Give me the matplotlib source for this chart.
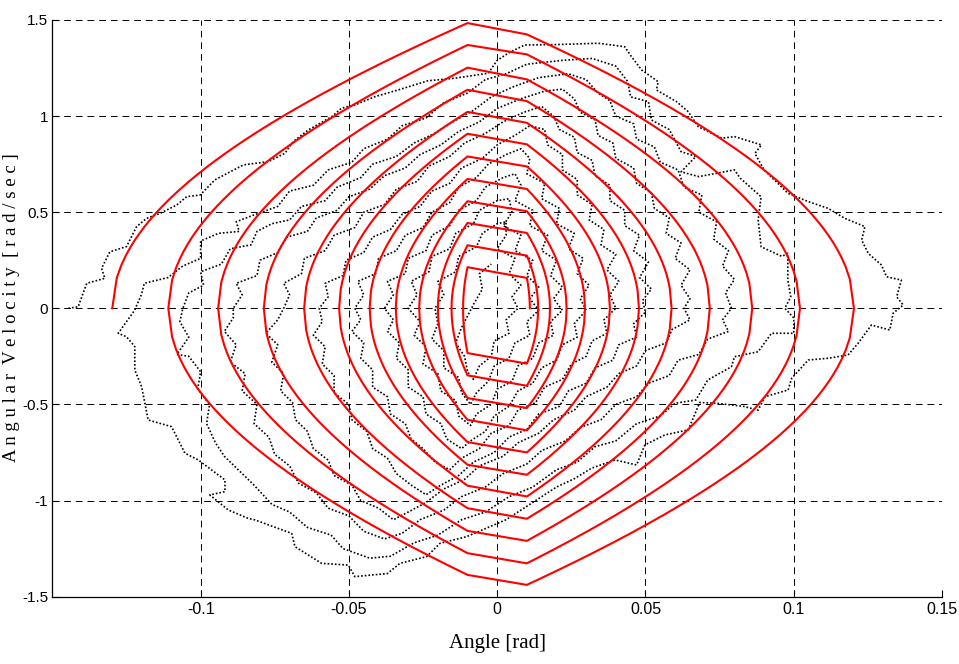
import numpy as np
import matplotlib
matplotlib.use("Agg")
import matplotlib.pyplot as plt

# switching-line model: crossings of the angle axis and the velocity values
# where each turn meets the dead-band edges at +/-0.01 rad
red_left_cross = [-0.1298, -0.1109, -0.0941, -0.0787, -0.0651, -0.0533,
                  -0.0430, -0.0342, -0.0263, -0.0200, -0.0154, -0.0115]
red_right_cross = [0.1203, 0.1021, 0.0860, 0.0717, 0.0588, 0.0478,
                   0.0380, 0.0296, 0.0234, 0.0178, 0.0138, 0.0110]
red_top_in = [1.484, 1.370, 1.252, 1.137, 1.022, 0.908,
              0.790, 0.673, 0.557, 0.444, 0.328, 0.214]
red_top_out = [1.425, 1.321, 1.191, 1.078, 0.965, 0.853,
               0.738, 0.621, 0.505, 0.392, 0.274, 0.158]
red_bot_in = [-1.439, -1.327, -1.210, -1.095, -0.979, -0.866,
              -0.750, -0.635, -0.519, -0.403, -0.288]
red_bot_out = [-1.387, -1.274, -1.158, -1.040, -0.923, -0.814,
               -0.696, -0.580, -0.467, -0.349, -0.233]
dead_band = 0.01
arc_bend = 16.5

# measured trajectory, one list per turn
blk_loop1 = [
    (-0.1446, 0.000), (-0.1413, 0.008), (-0.1384, 0.130), (-0.1323, 0.156), (-0.1334, 0.208),
    (-0.1306, 0.294), (-0.1250, 0.321), (-0.1216, 0.425), (-0.1182, 0.468), (-0.1137, 0.494),
    (-0.1081, 0.537), (-0.1047, 0.581), (-0.1002, 0.589), (-0.0952, 0.668), (-0.0856, 0.746),
    (-0.0772, 0.763), (-0.0716, 0.806), (-0.0688, 0.867), (-0.0637, 0.928), (-0.0558, 0.997),
    (-0.0525, 1.041), (-0.0480, 1.058), (-0.0412, 1.101), (-0.0334, 1.136), (-0.0233, 1.184),
    (-0.0143, 1.197), (-0.0030, 1.223), (0.0000, 1.290), (0.0040, 1.330), (0.0093, 1.370),
    (0.0200, 1.372), (0.0341, 1.379), (0.0430, 1.361), (0.0453, 1.309), (0.0487, 1.240),
    (0.0543, 1.179), (0.0537, 1.136), (0.0605, 1.075), (0.0644, 1.023), (0.0678, 0.945),
    (0.0757, 0.885), (0.0801, 0.893), (0.0891, 0.850), (0.0869, 0.806), (0.0900, 0.720),
    (0.0981, 0.598), (0.1049, 0.555), (0.1116, 0.520), (0.1172, 0.468), (0.1240, 0.425),
    (0.1229, 0.355), (0.1251, 0.286), (0.1296, 0.225), (0.1313, 0.164), (0.1363, 0.147),
    (0.1347, 0.060), (0.1369, 0.017), (0.1335, -0.026), (0.1324, -0.113), (0.1262, -0.087),
    (0.1217, -0.182), (0.1183, -0.243), (0.1116, -0.260), (0.1049, -0.269), (0.0993, -0.364),
    (0.0981, -0.425), (0.0903, -0.460), (0.0880, -0.530), (0.0830, -0.510), (0.0740, -0.494),
    (0.0683, -0.490), (0.0644, -0.633), (0.0565, -0.659), (0.0498, -0.711), (0.0470, -0.815),
    (0.0397, -0.789), (0.0318, -0.832), (0.0262, -0.885), (0.0200, -0.930), (0.0120, -1.010),
    (0.0030, -1.100), (-0.0103, -1.188), (-0.0193, -1.223), (-0.0238, -1.292), (-0.0328, -1.327),
    (-0.0370, -1.380), (-0.0480, -1.396), (-0.0502, -1.336), (-0.0592, -1.327), (-0.0682, -1.240),
    (-0.0693, -1.171), (-0.0817, -1.101), (-0.0840, -1.093), (-0.0907, -1.049), (-0.0969, -0.971),
    (-0.0918, -0.954), (-0.0918, -0.893), (-0.1008, -0.789), (-0.1053, -0.754), (-0.1098, -0.616),
    (-0.1177, -0.581), (-0.1188, -0.494), (-0.1199, -0.408), (-0.1222, -0.321), (-0.1222, -0.200),
    (-0.1250, -0.148), (-0.1278, -0.130), (-0.1222, -0.009),
]
blk_loop2 = [
    (-0.122, 0.00), (-0.120, 0.07), (-0.119, 0.13), (-0.111, 0.16), (-0.106, 0.22), (-0.100, 0.26),
    (-0.100, 0.35), (-0.094, 0.39), (-0.087, 0.40), (-0.088, 0.45), (-0.083, 0.48), (-0.074, 0.53),
    (-0.070, 0.61), (-0.062, 0.64), (-0.057, 0.72), (-0.049, 0.76), (-0.045, 0.83), (-0.037, 0.88),
    (-0.032, 0.95), (-0.024, 0.99), (-0.018, 1.07), (-0.010, 1.12), (-0.004, 1.19), (0.003, 1.22),
    (0.010, 1.27), (0.022, 1.29), (0.032, 1.30), (0.040, 1.26), (0.044, 1.18), (0.045, 1.10),
    (0.051, 1.075), (0.052, 0.98), (0.058, 0.93), (0.062, 0.815), (0.067, 0.79), (0.062, 0.71),
    (0.068, 0.685), (0.080, 0.72), (0.082, 0.676), (0.089, 0.58), (0.088, 0.46), (0.089, 0.32),
    (0.096, 0.27), (0.098, 0.286), (0.098, 0.147), (0.099, 0.06), (0.097, 0.0), (0.100, -0.05),
    (0.100, -0.13), (0.0925, -0.13), (0.088, -0.226), (0.080, -0.252), (0.079, -0.304), (0.071, -0.373),
    (0.067, -0.477), (0.060, -0.494), (0.055, -0.56), (0.047, -0.60), (0.040, -0.69), (0.033, -0.72),
    (0.027, -0.80), (0.020, -0.84), (0.012, -0.93), (0.004, -0.98), (-0.004, -1.06), (-0.012, -1.10),
    (-0.020, -1.18), (-0.028, -1.22), (-0.036, -1.29), (-0.043, -1.30), (-0.052, -1.25), (-0.056, -1.18),
    (-0.064, -1.14), (-0.070, -1.06), (-0.076, -1.02), (-0.082, -0.92), (-0.086, -0.86), (-0.092, -0.77),
    (-0.095, -0.70), (-0.098, -0.60), (-0.097, -0.50), (-0.101, -0.42), (-0.100, -0.33), (-0.104, -0.25),
    (-0.108, -0.24), (-0.104, -0.15), (-0.107, -0.07), (-0.106, 0.0),
]
blk_loop3 = [
    (-0.106, 0.00), (-0.104, 0.08), (-0.099, 0.12), (-0.100, 0.19), (-0.093, 0.23), (-0.090, 0.31),
    (-0.083, 0.33), (-0.081, 0.40), (-0.076, 0.44), (-0.070, 0.46), (-0.066, 0.53), (-0.058, 0.56),
    (-0.054, 0.63), (-0.046, 0.68), (-0.042, 0.75), (-0.034, 0.79), (-0.028, 0.86), (-0.021, 0.91),
    (-0.015, 0.97), (-0.008, 1.03), (-0.002, 1.10), (0.005, 1.15), (0.014, 1.20), (0.024, 1.22),
    (0.030, 1.19), (0.034, 1.12), (0.038, 1.08), (0.040, 1.00), (0.046, 0.96), (0.047, 0.88),
    (0.053, 0.84), (0.055, 0.76), (0.061, 0.72), (0.063, 0.63), (0.069, 0.59), (0.068, 0.50),
    (0.074, 0.45), (0.073, 0.36), (0.078, 0.30), (0.076, 0.22), (0.080, 0.15), (0.077, 0.08),
    (0.079, 0.0), (0.076, -0.06), (0.078, -0.12), (0.071, -0.16), (0.068, -0.24), (0.061, -0.27),
    (0.058, -0.35), (0.051, -0.39), (0.047, -0.46), (0.040, -0.50), (0.035, -0.58), (0.028, -0.62),
    (0.023, -0.69), (0.015, -0.74), (0.010, -0.81), (0.002, -0.86), (-0.004, -0.93), (-0.012, -0.98),
    (-0.018, -1.05), (-0.026, -1.10), (-0.032, -1.17), (-0.038, -1.20), (-0.045, -1.16), (-0.050, -1.08),
    (-0.057, -1.04), (-0.061, -0.96), (-0.067, -0.91), (-0.070, -0.82), (-0.075, -0.76), (-0.077, -0.67),
    (-0.082, -0.60), (-0.081, -0.50), (-0.086, -0.43), (-0.085, -0.34), (-0.090, -0.28), (-0.088, -0.19),
    (-0.092, -0.12), (-0.089, -0.05), (-0.089, 0.00),
]
blk_loop4 = [
    (-0.089, 0.00), (-0.086, 0.07), (-0.088, 0.13), (-0.081, 0.17), (-0.080, 0.25), (-0.074, 0.29),
    (-0.071, 0.37), (-0.064, 0.40), (-0.061, 0.47), (-0.054, 0.51), (-0.050, 0.58), (-0.043, 0.62),
    (-0.038, 0.69), (-0.031, 0.73), (-0.026, 0.80), (-0.019, 0.85), (-0.013, 0.92), (-0.006, 0.97),
    (0.000, 1.04), (0.008, 1.09), (0.016, 1.13), (0.022, 1.14), (0.026, 1.09), (0.028, 1.02),
    (0.033, 0.98), (0.034, 0.90), (0.039, 0.86), (0.040, 0.78), (0.046, 0.73), (0.047, 0.65),
    (0.052, 0.60), (0.053, 0.52), (0.058, 0.47), (0.057, 0.39), (0.062, 0.34), (0.060, 0.26),
    (0.065, 0.20), (0.062, 0.12), (0.065, 0.05), (0.063, 0.00), (0.065, -0.06), (0.059, -0.11),
    (0.057, -0.18), (0.050, -0.22), (0.047, -0.30), (0.041, -0.34), (0.037, -0.41), (0.030, -0.46),
    (0.026, -0.53), (0.019, -0.58), (0.014, -0.65), (0.007, -0.70), (0.002, -0.77), (-0.006, -0.82),
    (-0.011, -0.89), (-0.018, -0.94), (-0.024, -1.01), (-0.030, -1.06), (-0.035, -1.10), (-0.040, -1.04),
    (-0.046, -1.00), (-0.049, -0.92), (-0.055, -0.87), (-0.057, -0.79), (-0.062, -0.73), (-0.064, -0.64),
    (-0.068, -0.58), (-0.069, -0.49), (-0.073, -0.43), (-0.072, -0.34), (-0.076, -0.28), (-0.074, -0.19),
    (-0.078, -0.13), (-0.074, -0.06), (-0.072, 0.00),
]
blk_loop5 = [
    (-0.072, 0.00), (-0.070, 0.07), (-0.072, 0.13), (-0.066, 0.18), (-0.065, 0.26), (-0.058, 0.30),
    (-0.055, 0.38), (-0.048, 0.42), (-0.045, 0.50), (-0.038, 0.54), (-0.034, 0.62), (-0.027, 0.66),
    (-0.023, 0.74), (-0.016, 0.79), (-0.011, 0.86), (-0.004, 0.91), (0.002, 0.97), (0.009, 1.02),
    (0.015, 1.05), (0.019, 1.00), (0.021, 0.93), (0.026, 0.89), (0.027, 0.81), (0.032, 0.77),
    (0.033, 0.69), (0.038, 0.64), (0.038, 0.56), (0.043, 0.51), (0.043, 0.43), (0.048, 0.38),
    (0.046, 0.30), (0.051, 0.24), (0.048, 0.16), (0.052, 0.10), (0.049, 0.04), (0.050, -0.02),
    (0.046, -0.08), (0.047, -0.15), (0.041, -0.19), (0.039, -0.27), (0.033, -0.31), (0.030, -0.39),
    (0.024, -0.43), (0.021, -0.51), (0.014, -0.55), (0.010, -0.63), (0.004, -0.67), (-0.001, -0.75),
    (-0.008, -0.80), (-0.013, -0.87), (-0.019, -0.92), (-0.024, -0.97), (-0.029, -0.92), (-0.034, -0.86),
    (-0.037, -0.78), (-0.042, -0.73), (-0.044, -0.64), (-0.049, -0.58), (-0.050, -0.50), (-0.055, -0.44),
    (-0.055, -0.35), (-0.059, -0.29), (-0.058, -0.20), (-0.062, -0.14), (-0.059, -0.07), (-0.060, 0.00),
]
blk_loop6 = [
    (-0.060, 0.00), (-0.057, 0.06), (-0.058, 0.13), (-0.052, 0.17), (-0.051, 0.25), (-0.045, 0.29),
    (-0.042, 0.37), (-0.036, 0.41), (-0.032, 0.49), (-0.026, 0.53), (-0.022, 0.61), (-0.016, 0.65),
    (-0.012, 0.73), (-0.005, 0.78), (0.000, 0.85), (0.006, 0.90), (0.011, 0.95), (0.016, 0.93),
    (0.017, 0.85), (0.022, 0.80), (0.022, 0.72), (0.027, 0.67), (0.027, 0.59), (0.032, 0.54),
    (0.031, 0.46), (0.036, 0.41), (0.035, 0.33), (0.040, 0.28), (0.037, 0.20), (0.041, 0.14),
    (0.038, 0.07), (0.040, 0.00), (0.036, -0.06), (0.037, -0.13), (0.032, -0.17), (0.030, -0.25),
    (0.025, -0.29), (0.022, -0.37), (0.016, -0.41), (0.013, -0.49), (0.007, -0.53), (0.004, -0.61),
    (-0.002, -0.65), (-0.006, -0.73), (-0.012, -0.78), (-0.016, -0.84), (-0.021, -0.80), (-0.025, -0.73),
    (-0.029, -0.68), (-0.031, -0.60), (-0.036, -0.55), (-0.037, -0.46), (-0.042, -0.41), (-0.042, -0.32),
    (-0.046, -0.26), (-0.045, -0.18), (-0.049, -0.12), (-0.046, -0.06), (-0.048, 0.00),
]
blk_loop7 = [
    (-0.048, 0.00), (-0.045, 0.07), (-0.047, 0.14), (-0.041, 0.18), (-0.040, 0.26), (-0.034, 0.30),
    (-0.031, 0.38), (-0.025, 0.42), (-0.022, 0.50), (-0.016, 0.55), (-0.013, 0.63), (-0.007, 0.68),
    (-0.003, 0.75), (0.003, 0.80), (0.008, 0.83), (0.011, 0.78), (0.010, 0.70), (0.016, 0.65),
    (0.015, 0.57), (0.021, 0.52), (0.020, 0.44), (0.026, 0.39), (0.024, 0.31), (0.029, 0.26),
    (0.027, 0.18), (0.031, 0.12), (0.028, 0.05), (0.030, -0.01), (0.026, -0.08), (0.027, -0.15),
    (0.022, -0.19), (0.020, -0.27), (0.015, -0.31), (0.012, -0.39), (0.007, -0.43), (0.004, -0.51),
    (-0.001, -0.56), (-0.004, -0.64), (-0.009, -0.69), (-0.012, -0.73), (-0.017, -0.68), (-0.019, -0.60),
    (-0.024, -0.55), (-0.025, -0.46), (-0.030, -0.41), (-0.030, -0.32), (-0.034, -0.26), (-0.033, -0.18),
    (-0.037, -0.12), (-0.035, -0.06), (-0.038, 0.00),
]
blk_loop8 = [
    (-0.038, 0.00), (-0.035, 0.07), (-0.037, 0.14), (-0.031, 0.18), (-0.030, 0.26), (-0.024, 0.30),
    (-0.022, 0.38), (-0.016, 0.43), (-0.013, 0.51), (-0.007, 0.56), (-0.004, 0.63), (0.002, 0.68),
    (0.006, 0.70), (0.008, 0.64), (0.006, 0.56), (0.012, 0.51), (0.011, 0.43), (0.017, 0.38),
    (0.015, 0.30), (0.020, 0.25), (0.018, 0.17), (0.022, 0.11), (0.019, 0.05), (0.022, -0.01),
    (0.018, -0.07), (0.019, -0.14), (0.014, -0.18), (0.012, -0.26), (0.007, -0.30), (0.005, -0.38),
    (0.000, -0.42), (-0.002, -0.50), (-0.007, -0.55), (-0.009, -0.61), (-0.013, -0.56), (-0.014, -0.48),
    (-0.019, -0.43), (-0.020, -0.34), (-0.025, -0.29), (-0.024, -0.20), (-0.028, -0.14), (-0.026, -0.07),
    (-0.030, 0.00),
]
blk_loop9 = [
    (-0.030, 0.00), (-0.027, 0.07), (-0.029, 0.14), (-0.023, 0.19), (-0.022, 0.27), (-0.016, 0.31),
    (-0.014, 0.39), (-0.008, 0.44), (-0.006, 0.51), (0.000, 0.56), (0.004, 0.57), (0.005, 0.50),
    (0.002, 0.43), (0.008, 0.38), (0.006, 0.30), (0.012, 0.25), (0.010, 0.17), (0.014, 0.11),
    (0.011, 0.05), (0.014, -0.01), (0.010, -0.07), (0.011, -0.14), (0.006, -0.18), (0.004, -0.26),
    (-0.001, -0.30), (-0.003, -0.38), (-0.007, -0.44), (-0.009, -0.50), (-0.012, -0.44), (-0.013, -0.36),
    (-0.018, -0.31), (-0.018, -0.22), (-0.022, -0.16), (-0.020, -0.08), (-0.021, 0.00),
]
blk_loop10 = [
    (-0.021, 0.00), (-0.018, 0.07), (-0.020, 0.14), (-0.014, 0.19), (-0.013, 0.27), (-0.007, 0.32),
    (-0.005, 0.39), (0.000, 0.44), (0.003, 0.45), (0.003, 0.38), (0.000, 0.31), (0.006, 0.26),
    (0.004, 0.18), (0.008, 0.12), (0.005, 0.06), (0.007, 0.00), (0.003, -0.06), (0.004, -0.13),
    (-0.001, -0.17), (-0.002, -0.25), (-0.006, -0.30), (-0.008, -0.37), (-0.010, -0.33), (-0.011, -0.25),
    (-0.014, -0.18), (-0.012, -0.10), (-0.010, -0.04), (-0.008, 0.02), (-0.005, 0.10), (-0.006, 0.18),
    (-0.002, 0.23),
]

x_ticks = [-0.1, -0.05, 0, 0.05, 0.1, 0.15]
x_tick_labels = ['-0.1', '-0.05', '0', '0.05', '0.1', '0.15']
y_ticks = [-1.5, -1, -0.5, 0, 0.5, 1, 1.5]
y_tick_labels = ['-1.5', '-1', '-0.5', '0', '0.5', '1', '1.5']


def arc(x_cross, x_edge, v_edge):
    # one quarter of a turn: from the axis crossing out to the dead-band edge
    d0 = abs(x_edge - x_cross)
    a = (v_edge ** 2 - arc_bend * d0 ** 2) / d0
    d = np.linspace(0, d0, 80)
    x = x_cross + np.sign(x_edge - x_cross) * d
    v = np.sqrt(np.clip(a * d + arc_bend * d ** 2, 0, None))
    return x, v


rx, ry = [], []
for k in range(len(red_top_in)):
    x, v = arc(red_left_cross[k], -dead_band, red_top_in[k])
    rx += list(x); ry += list(v)
    x, v = arc(red_right_cross[k], dead_band, red_top_out[k])
    rx += list(x[::-1]); ry += list(v[::-1])
    if k < len(red_bot_in):
        x, v = arc(red_right_cross[k], dead_band, -red_bot_in[k])
        rx += list(x); ry += list(-v)
        x, v = arc(red_left_cross[k + 1], -dead_band, -red_bot_out[k])
        rx += list(x[::-1]); ry += list(-v[::-1])

loops = [blk_loop1, blk_loop2, blk_loop3, blk_loop4, blk_loop5,
         blk_loop6, blk_loop7, blk_loop8, blk_loop9, blk_loop10]
bx = [p[0] for lp in loops for p in lp]
by = [p[1] for lp in loops for p in lp]

fig = plt.figure(figsize=(9.59, 6.64), dpi=100)
ax = fig.add_axes([0.0546, 0.1015, 0.9277, 0.8684])

ax.plot(bx, by, color='k', lw=1.2, ls=(0, (1, 1.2)))
ax.plot(rx, ry, color='red', lw=1.5)

ax.set_xlim(-0.15, 0.15)
ax.set_ylim(-1.5, 1.5)
ax.set_xticks(x_ticks)
ax.set_xticklabels(x_tick_labels)
ax.set_yticks(y_ticks)
ax.set_yticklabels(y_tick_labels)
ax.grid(True, color='k', lw=0.7, linestyle=(0, (7, 5)))
ax.set_axisbelow(True)
for s in ['top', 'right']:
    ax.spines[s].set_visible(False)
for s in ['left', 'bottom']:
    ax.spines[s].set_linewidth(0.9)
ax.tick_params(direction='in', length=5, width=0.8, pad=4)
ax.tick_params(axis='y', pad=3)
for lab in ax.get_xticklabels() + ax.get_yticklabels():
    lab.set_fontfamily(['Liberation Sans Narrow', 'Liberation Sans'])
    lab.set_fontsize(11.5)
for lab in ax.get_yticklabels():
    lab.set_fontsize(11)

fig.text(0.5185, 0.031, 'Angle [rad]', ha='center', va='center',
         family=['Liberation Serif'], fontsize=15)
fig.text(0.0115, 0.537, 'A n g u l a r  V e l o c i t y  [ r a d / s e c ]',
         ha='center', va='center', rotation=90,
         family=['Liberation Serif'], fontsize=13.5)

fig.savefig('out.png', dpi=100)
